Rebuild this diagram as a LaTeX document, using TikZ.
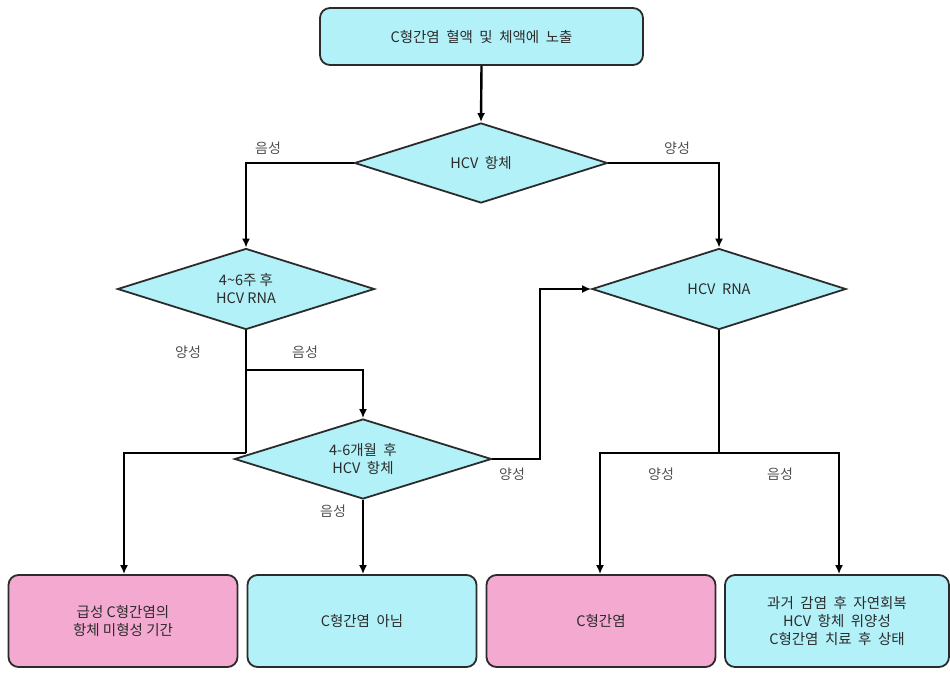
\documentclass[tikz,border=0pt]{standalone}
\usepackage{fontspec}
\setmainfont{Noto Sans CJK KR}
\usetikzlibrary{shapes.geometric,arrows.meta}
\definecolor{cy}{HTML}{B3F1F8}
\definecolor{pk}{HTML}{F4A9D0}
\definecolor{tx}{HTML}{2B2B2B}
\definecolor{lb}{HTML}{505050}
\begin{document}
\begin{tikzpicture}[x=1pt,y=-1pt,
  every node/.style={font=\fontsize{14.5}{18}\selectfont, text=tx},
  boxnode/.style={draw=tx, line width=1.8pt, rounded corners=10pt, align=center, inner sep=0pt},
  decide/.style={diamond, shape aspect=3.2, draw=tx, line width=1.8pt, fill=cy, align=center, inner sep=0pt},
  conn/.style={line width=2.4pt, black},
  arr/.style={conn, -{Latex[length=9pt,width=8pt]}},
  lab/.style={text=lb, font=\fontsize{14}{17}\selectfont}]
\useasboundingbox (0,0) rectangle (950,675);
\node[boxnode, fill=cy, minimum width=323pt, minimum height=57pt] (top) at (481.5,36.5) {C형간염 \ 혈액 \ 및 \ 체액에 \ 노출};
\node[decide, minimum width=253pt, minimum height=80pt] (d1) at (481,163) {HCV \ 항체};
\node[decide, minimum width=257pt, minimum height=81pt] (d2) at (246,289) {4\textasciitilde6주 후\\HCV RNA};
\node[decide, minimum width=254pt, minimum height=81pt] (d3) at (719,289) {HCV \ RNA};
\node[decide, minimum width=257pt, minimum height=80pt] (d4) at (363,459) {4-6개월 \ 후\\HCV \ 항체};
\node[boxnode, fill=pk, minimum width=229pt, minimum height=92pt] (b1) at (123,621) {급성 C형간염의\\항체 미형성 기간};
\node[boxnode, fill=cy, minimum width=229pt, minimum height=92pt] (b2) at (362,621) {C형간염 \ 아님};
\node[boxnode, fill=pk, minimum width=229pt, minimum height=92pt] (b3) at (601,621) {C형간염};
\node[boxnode, fill=cy, minimum width=224pt, minimum height=92pt] (b4) at (837,621) {과거 \ 감염 \ 후 \ 자연회복\\HCV \ 항체 \ 위양성\\C형간염 \ 치료 \ 후 \ 상태};
\coordinate (j1) at (246,453);
\coordinate (j2) at (246,370);
\coordinate (j3) at (540,459);
\coordinate (j4) at (719,453);
\draw[arr] (top.south) -- (d1.north);
\draw[arr] (d1.west) -| (d2.north);
\draw[arr] (d1.east) -| (d3.north);
\draw[conn] (d2.south) -- (j1);
\draw[arr] (j1) -| ([xshift=1pt]b1.north);
\draw[arr] (j2) -| (d4.north);
\draw[arr] (d4.east) -- (j3) |- (d3.west);
\draw[arr] (d4.south) -- ([xshift=1pt]b2.north);
\draw[conn] (d3.south) -- (j4);
\draw[arr] (j4) -| ([xshift=-1pt]b3.north);
\draw[arr] (j4) -| ([xshift=2pt]b4.north);
\node[lab] (l1) at (268,148) {음성};
\node[lab] (l2) at (677,148) {양성};
\node[lab] (l3) at (188,352) {양성};
\node[lab] (l4) at (305,352) {음성};
\node[lab] (l5) at (512,474) {양성};
\node[lab] (l6) at (333,511) {음성};
\node[lab] (l7) at (661,474) {양성};
\node[lab] (l8) at (780,474) {음성};
\end{tikzpicture}
\end{document}
